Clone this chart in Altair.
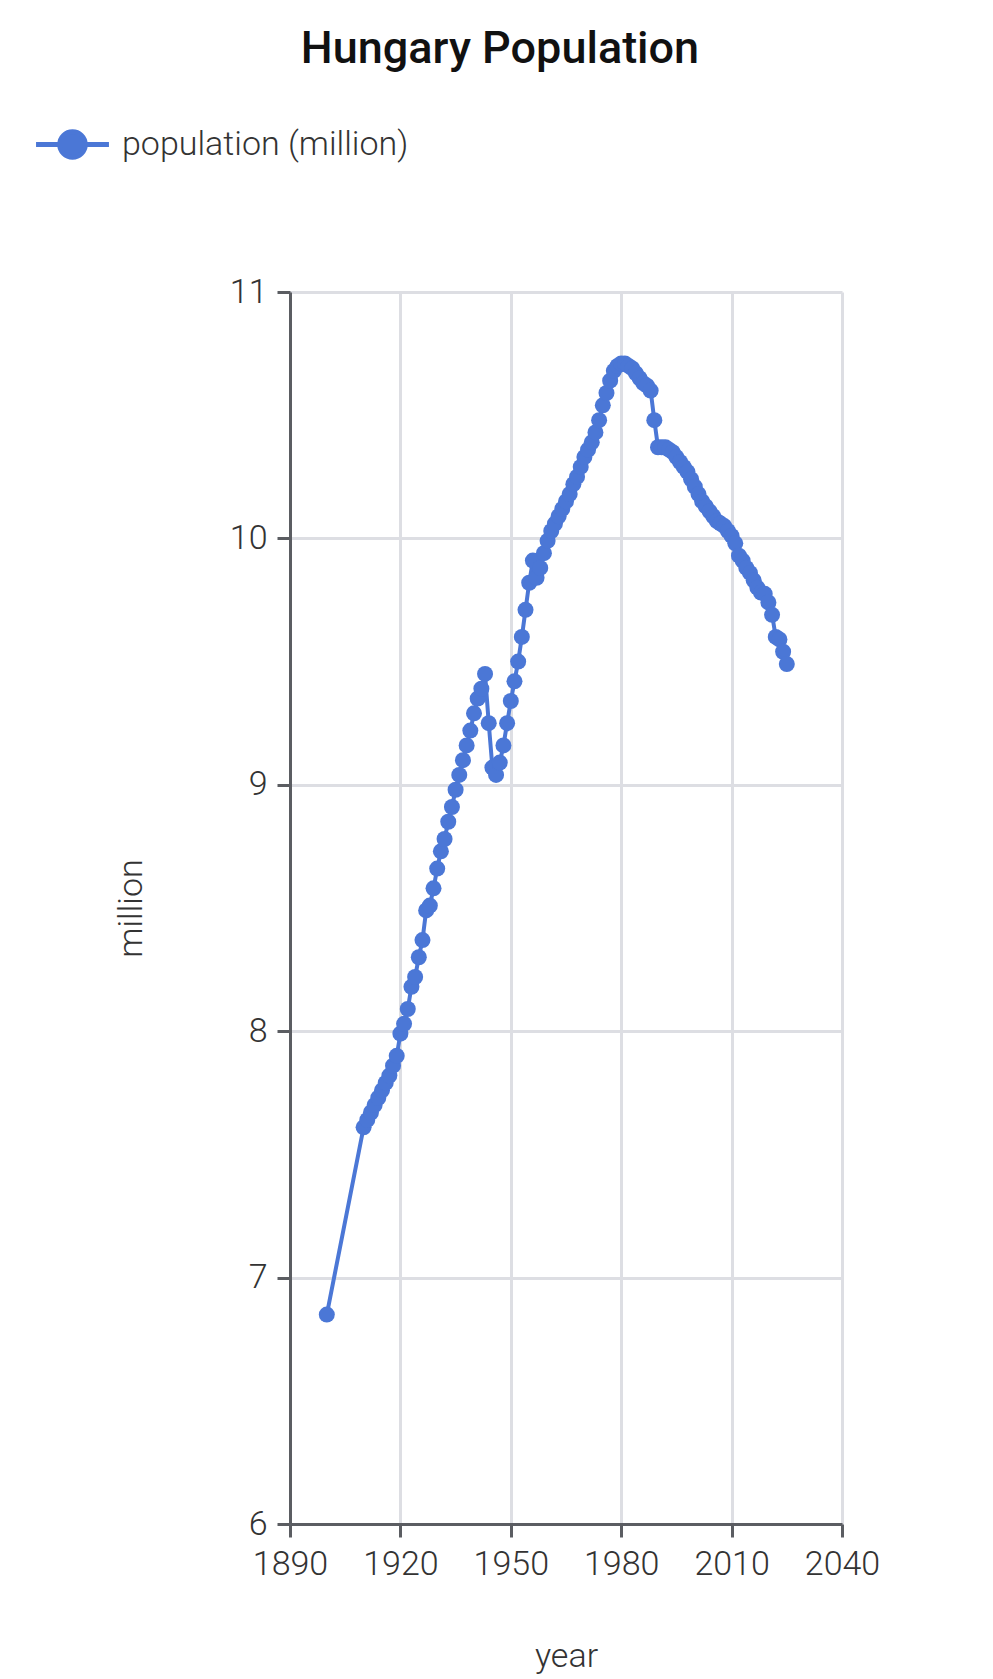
import altair as alt
import pandas as pd

# ---- data ----
years = [
    1900,
    1910, 1911, 1912, 1913, 1914, 1915, 1916, 1917, 1918, 1919,
    1920, 1921, 1922, 1923, 1924, 1925, 1926, 1927, 1928, 1929,
    1930, 1931, 1932, 1933, 1934, 1935, 1936, 1937, 1938, 1939,
    1940, 1941, 1942, 1943, 1944, 1945, 1946, 1947, 1948, 1949,
    1950, 1951, 1952, 1953, 1954, 1955, 1956, 1957, 1958, 1959,
    1960, 1961, 1962, 1963, 1964, 1965, 1966, 1967, 1968, 1969,
    1970, 1971, 1972, 1973, 1974, 1975, 1976, 1977, 1978, 1979,
    1980, 1981, 1982, 1983, 1984, 1985, 1986, 1987, 1988, 1989,
    1990, 1991, 1992, 1993, 1994, 1995, 1996, 1997, 1998, 1999,
    2000, 2001, 2002, 2003, 2004, 2005, 2006, 2007, 2008, 2009,
    2010, 2011, 2012, 2013, 2014, 2015, 2016, 2017, 2018, 2019,
    2020, 2021, 2022, 2023, 2024, 2025,
]
population = [
    6.85,
    7.61, 7.64, 7.67, 7.70, 7.73, 7.76, 7.79, 7.82, 7.86, 7.90,
    7.99, 8.03, 8.09, 8.18, 8.22, 8.30, 8.37, 8.49, 8.51, 8.58,
    8.66, 8.73, 8.78, 8.85, 8.91, 8.98, 9.04, 9.10, 9.16, 9.22,
    9.29, 9.35, 9.39, 9.45, 9.25, 9.07, 9.04, 9.09, 9.16, 9.25,
    9.34, 9.42, 9.50, 9.60, 9.71, 9.82, 9.91, 9.84, 9.88, 9.94,
    9.99, 10.03, 10.06, 10.09, 10.12, 10.15, 10.18, 10.22, 10.25, 10.29,
    10.33, 10.36, 10.39, 10.43, 10.48, 10.54, 10.59, 10.64, 10.68, 10.70,
    10.71, 10.71, 10.70, 10.69, 10.67, 10.65, 10.63, 10.62, 10.60, 10.48,
    10.37, 10.37, 10.37, 10.36, 10.35, 10.33, 10.31, 10.29, 10.27, 10.24,
    10.21, 10.18, 10.15, 10.13, 10.11, 10.09, 10.07, 10.06, 10.05, 10.03,
    10.01, 9.98, 9.93, 9.91, 9.88, 9.86, 9.83, 9.80, 9.78, 9.775,
    9.74, 9.69, 9.60, 9.59, 9.54, 9.49,
]
series_name = "population (million)"
x_ticks = [1890, 1920, 1950, 1980, 2010, 2040]
y_ticks = [6, 7, 8, 9, 10, 11]

BLUE = "#4b77d6"
FONT = "Roboto"
TEXT = "#333333"

df = pd.DataFrame({"year": years, "population": population})
df["series"] = series_name

x_enc = alt.X(
    "year:Q",
    scale=alt.Scale(domain=[1890, 2040], nice=False, zero=False),
    axis=alt.Axis(values=x_ticks, format="d", title="year",
                  labelFlush=False, labelOverlap=False,
                  titleX=276, titleY=142, titleBaseline="alphabetic",
                  titleAlign="center"),
)
y_enc = alt.Y(
    "population:Q",
    scale=alt.Scale(domain=[6, 11], nice=False, zero=False),
    axis=alt.Axis(values=y_ticks, format="d", title="million",
                  labelFlush=False, labelOverlap=False,
                  titleX=-149, titleY=616,
                  titleAngle=-90, titleAlign="center", titleBaseline="alphabetic"),
)

legend_symbol = "M-2.43,0H2.43M-0.85,0A0.85,0.85,0,1,0,0.85,0A0.85,0.85,0,1,0,-0.85,0Z"

line = alt.Chart(df).mark_line(strokeWidth=4).encode(
    x=x_enc,
    y=y_enc,
    color=alt.Color(
        "series:N",
        scale=alt.Scale(domain=[series_name], range=[BLUE]),
        legend=alt.Legend(
            title=None, orient="none", legendX=-235, legendY=-165,
            symbolType=legend_symbol, symbolSize=900, symbolStrokeWidth=5,
            symbolFillColor=BLUE, labelFont=FONT, labelFontSize=34,
            labelFontWeight=300, labelLimit=600,
            labelColor=TEXT, labelOffset=32,
        ),
    ),
)
points = alt.Chart(df).mark_circle(size=256, opacity=1, color=BLUE).encode(
    x="year:Q",
    y="population:Q",
)

chart = (
    alt.layer(line, points)
    .properties(
        width=552,
        height=1232,
        title=alt.TitleParams(
            "Hungary Population", font=FONT, fontSize=45, fontWeight=500,
            color="#111111", anchor="middle", frame="group", dx=-66, offset=55,
        ),
        autosize=alt.AutoSizeParams(type="none"),
        padding={"left": 282, "top": 284, "right": 120, "bottom": 150},
    )
    .configure_view(stroke=None)
    .configure_axis(
        labelFont=FONT, labelFontSize=34, labelFontWeight=300, labelColor=TEXT,
        titleFont=FONT, titleFontSize=34, titleFontWeight=300,
        titleColor=TEXT,
        domainColor="#5b5d62", domainWidth=3,
        tickColor="#5b5d62", tickWidth=3, tickSize=13,
        gridColor="#dddee3", gridWidth=3, labelPadding=10,
    )
)

chart.save("out.html", embed_options={"renderer": "svg", "actions": False})
